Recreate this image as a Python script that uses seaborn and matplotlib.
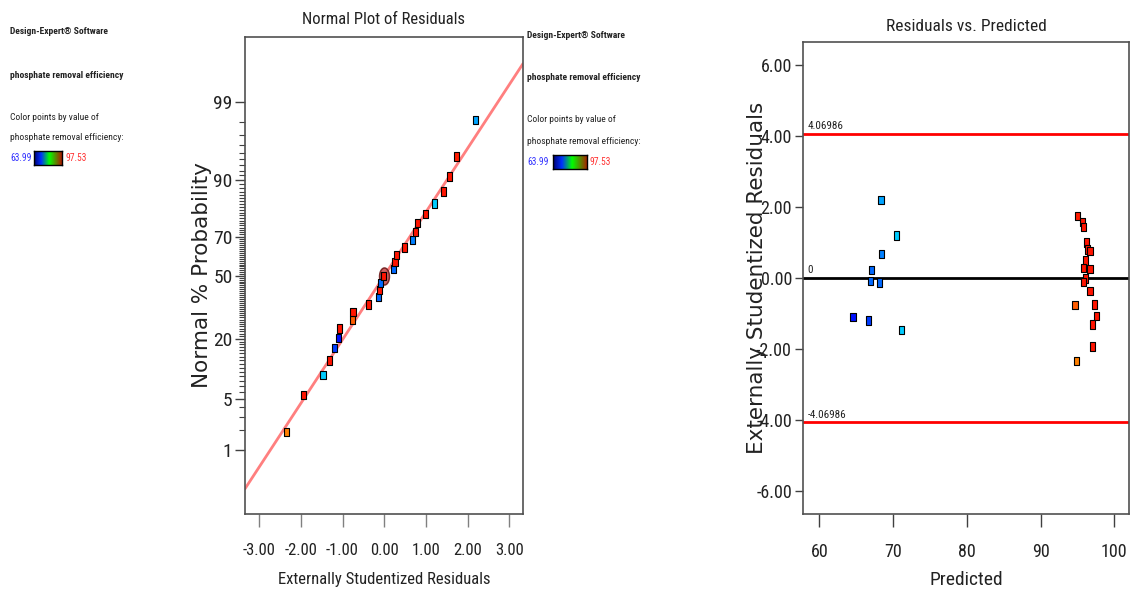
import numpy as np
import pandas as pd
import seaborn as sns
import matplotlib
matplotlib.use("Agg")
import matplotlib.pyplot as plt
import matplotlib.font_manager as fm
from matplotlib.path import Path
from matplotlib.colors import LinearSegmentedColormap, Normalize
from statistics import NormalDist

# ---------------- data ----------------
predicted = [68.37, 70.44, 68.46, 67.11, 66.97, 68.14, 64.57, 66.64, 71.17,
             94.98, 95.72, 95.85, 96.26, 96.34, 96.71, 96.07, 95.85, 96.71,
             96.12, 95.85, 96.71, 94.67, 97.29, 97.61, 97.02, 97.07, 94.85]
residuals = [2.19, 1.20, 0.67, 0.22, -0.08, -0.13, -1.10, -1.20, -1.47,
             1.74, 1.57, 1.43, 1.00, 0.80, 0.76, 0.49, 0.29, 0.26,
             -0.01, -0.12, -0.37, -0.77, -0.75, -1.08, -1.31, -1.93, -2.34]
efficiency = [69.4, 70.8, 68.2, 67.4, 67.4, 67.4, 64.6, 66.0, 70.7,
              96.6, 96.8, 96.8, 96.8, 96.8, 96.8, 96.8, 96.8, 96.8,
              96.8, 96.8, 96.8, 94.4, 96.8, 96.8, 96.8, 96.8, 93.3]
selected_run = 18
eff_min, eff_max = 63.99, 97.53
control_limit = 4.06986
fit_sigma = 1.175

prob_major = [1, 5, 20, 50, 70, 90, 99]
x_ticks_left = [-3, -2, -1, 0, 1, 2, 3]
x_ticks_right = [60, 70, 80, 90, 100]
y_ticks_right = [-6, -4, -2, 0, 2, 4, 6]

# ---------------- fonts ----------------
sns.set_theme(style="white")
avail = {f.name for f in fm.fontManager.ttflist}
narrow = None
for nm in ["Roboto Condensed", "Liberation Sans Narrow", "Open Sans Condensed",
           "Noto Sans Condensed"]:
    if nm in avail:
        narrow = nm
        break
NF = dict(family=narrow) if narrow else dict(family="DejaVu Sans", stretch="condensed")
plt.rcParams["font.family"] = ["DejaVu Sans"]

W, H = 1131, 591
fig = plt.figure(figsize=(W / 100, H / 100), dpi=100)

pt_cmap = LinearSegmentedColormap.from_list(
    "pts", ["#0000FF", "#00FFFF", "#00FF00", "#FFFF00", "#FF0000"])
bar_cmap = LinearSegmentedColormap.from_list(
    "bar", [(0, "#000070"), (0.25, "#0030FF"), (0.55, "#00FF00"), (1, "#B01800")])
norm = Normalize(eff_min, eff_max)

rect = Path([(-0.62, -1), (0.62, -1), (0.62, 1), (-0.62, 1), (-0.62, -1)],
            [Path.MOVETO, Path.LINETO, Path.LINETO, Path.LINETO, Path.CLOSEPOLY])
th = np.linspace(0, 2 * np.pi, 60)
ell = Path(np.column_stack([0.58 * np.cos(th), np.sin(th)]))

nd = NormalDist()
TXT = "#222222"


def fx(px):
    return px / W


def fy(py):
    return 1 - py / H


# ---------------- left: normal plot ----------------
axL = fig.add_axes([fx(245), fy(514), 278 / W, 477 / H])
order = np.argsort(residuals, kind="stable")
n = len(residuals)
df_n = pd.DataFrame({
    "residual": np.array(residuals)[order],
    "eff": np.array(efficiency)[order],
    "z": [nd.inv_cdf((i + 0.5) / n) for i in range(n)],
})
axL.set_xlim(-3.34, 3.33)
axL.set_ylim(-3.18, 3.19)
xs = np.array(axL.get_xlim())
sns.lineplot(x=xs, y=xs / fit_sigma, color="#FF7F7F", linewidth=2.0, ax=axL, zorder=2)
sel_pos = int(np.where(order == selected_run)[0][0])
sns.scatterplot(data=df_n.iloc[[sel_pos]], x="residual", y="z", marker=ell, s=150,
                color="#C85050", edgecolor="#6E1A1A", linewidth=1.1, alpha=0.9,
                legend=False, ax=axL, zorder=3)
sns.scatterplot(data=df_n, x="residual", y="z", hue="eff", palette=pt_cmap,
                hue_norm=norm, marker=rect, s=36, edgecolor="black", linewidth=0.8,
                legend=False, ax=axL, zorder=4)
axL.set_xticks(x_ticks_left)
axL.set_xticklabels([f"{v:.2f}" for v in x_ticks_left], **NF, fontsize=12)
axL.set_yticks([nd.inv_cdf(p / 100) for p in prob_major])
axL.set_yticklabels([str(p) for p in prob_major], **NF, fontsize=14)
axL.set_yticks([nd.inv_cdf(p / 100) for p in range(1, 100) if p not in prob_major],
               minor=True)
axL.tick_params(axis="x", which="major", direction="out", length=9, width=1,
                color="#808080", pad=12, labelcolor=TXT, bottom=True)
axL.tick_params(axis="y", which="major", direction="out", length=7, width=1,
                color="#404040", pad=2, labelcolor=TXT, left=True)
axL.tick_params(axis="y", which="minor", direction="out", length=4, width=0.8,
                color="#404040", left=True)
axL.set_xlabel("Externally Studentized Residuals", **NF, fontsize=12, color=TXT)
axL.xaxis.set_label_coords(0.5, -0.122)
axL.set_ylabel("Normal % Probability", fontsize=15.5, color=TXT)
axL.yaxis.set_label_coords(-0.117, 0.5)
axL.set_title("Normal Plot of Residuals", **NF, fontsize=12, color=TXT, pad=9)

# ---------------- right: residuals vs predicted ----------------
axR = fig.add_axes([fx(803), fy(514), 326 / W, 472 / H])
axR.set_xlim(57.79, 101.99)
axR.set_ylim(-6.65, 6.65)
axR.axhline(control_limit, color="#FF0000", linewidth=2, zorder=2)
axR.axhline(-control_limit, color="#FF0000", linewidth=2, zorder=2)
axR.axhline(0, color="black", linewidth=2, zorder=2)
df_r = pd.DataFrame({"pred": predicted, "res": residuals, "eff": efficiency})
sns.scatterplot(data=df_r, x="pred", y="res", hue="eff", palette=pt_cmap,
                hue_norm=norm, marker=rect, s=36, edgecolor="black", linewidth=0.8,
                legend=False, ax=axR, zorder=4)
for v, lab in [(control_limit, f"{control_limit:.5f}"),
               (-control_limit, f"{-control_limit:.5f}"), (0, "0")]:
    axR.annotate(lab, xy=(0.013, v), xycoords=("axes fraction", "data"),
                 xytext=(0, 2), textcoords="offset points", va="bottom", ha="left",
                 fontsize=8, color=TXT, **NF)
axR.set_xticks(x_ticks_right)
axR.set_xticklabels([str(v) for v in x_ticks_right], **NF, fontsize=13)
axR.set_yticks(y_ticks_right)
axR.set_yticklabels([f"{v:.2f}" for v in y_ticks_right], **NF, fontsize=13)
axR.tick_params(axis="x", direction="out", length=9, width=1, color="#404040",
                pad=12, labelcolor=TXT, bottom=True)
axR.tick_params(axis="y", direction="out", length=6, width=1, color="#404040",
                pad=2, labelcolor=TXT, left=True)
axR.set_xlabel("Predicted", **NF, fontsize=14, color=TXT)
axR.xaxis.set_label_coords(0.5, -0.12)
axR.set_ylabel("Externally Studentized Residuals", fontsize=15.5, color=TXT)
axR.yaxis.set_label_coords(-0.11, 0.5)
axR.set_title("Residuals vs. Predicted", **NF, fontsize=12.5, color=TXT, pad=8)

for ax in (axL, axR):
    for s in ax.spines.values():
        s.set_color("#505050")
        s.set_linewidth(1.2)
    ax.grid(False)


# ---------------- legend text blocks ----------------
def legend_block(x0, ys, bar_x):
    kw = dict(fontsize=6.8, color=TXT, va="center", ha="left", **NF)
    fig.text(fx(x0), fy(ys[0]), "Design-Expert® Software", fontweight="bold", **kw)
    fig.text(fx(x0), fy(ys[1]), "phosphate removal efficiency", fontweight="bold", **kw)
    fig.text(fx(x0), fy(ys[2]), "Color points by value of", **kw)
    fig.text(fx(x0), fy(ys[3]), "phosphate removal efficiency:", **kw)
    kw2 = dict(kw)
    kw2["color"] = "#3333FF"
    kw2["fontsize"] = 6.9
    fig.text(fx(x0), fy(ys[4]), f"{eff_min:.2f}", **kw2)
    kw2["color"] = "#FF3333"
    fig.text(fx(bar_x[1] + 3), fy(ys[4]), f"{eff_max:.2f}", **kw2)
    cax = fig.add_axes([fx(bar_x[0]), fy(ys[4] + 7), (bar_x[1] - bar_x[0]) / W, 14 / H])
    cax.imshow(np.linspace(0, 1, 128)[None, :], aspect="auto", cmap=bar_cmap)
    cax.set_xticks([])
    cax.set_yticks([])
    for s in cax.spines.values():
        s.set_color("black")
        s.set_linewidth(1)


legend_block(10, [32, 75, 117, 138, 158], (34, 62))
legend_block(527, [36, 78, 120, 142, 162], (553, 587))

fig.savefig("out.png", dpi=100)
